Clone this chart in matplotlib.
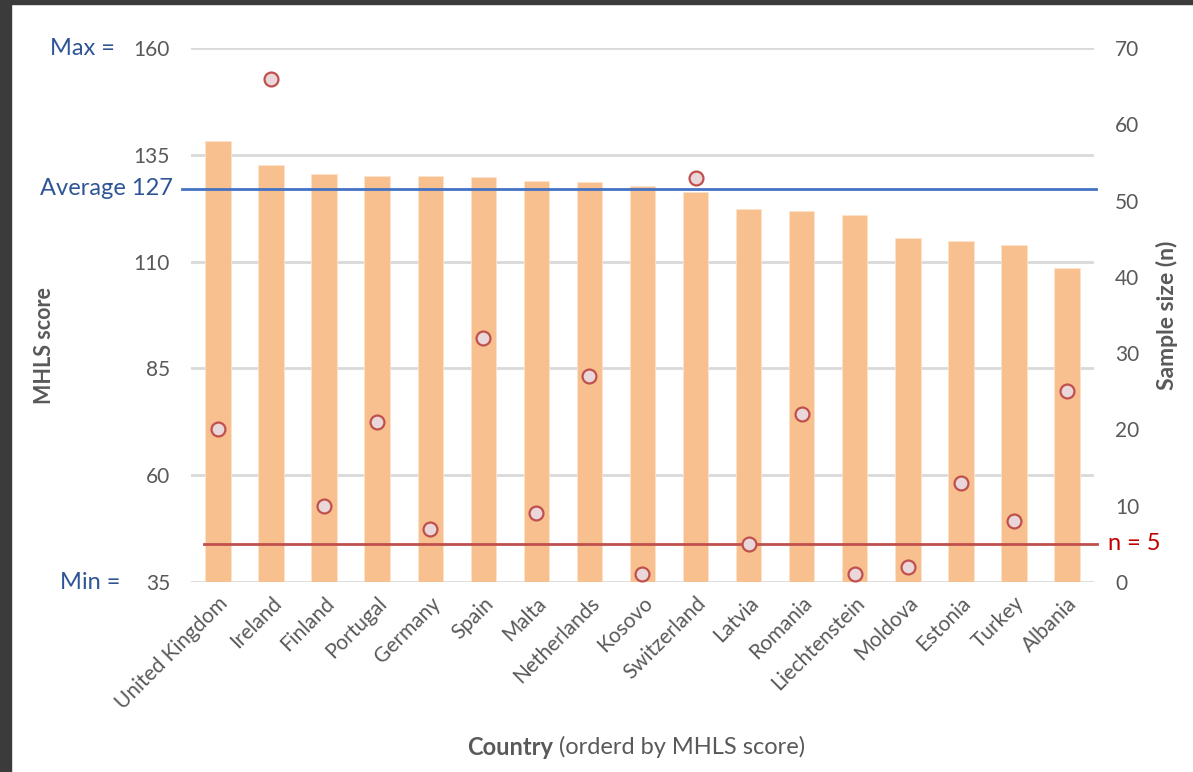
import matplotlib
matplotlib.use("Agg")
import matplotlib.pyplot as plt
import matplotlib.patches as mpatches

plt.rcParams['font.family'] = ['Lato', 'DejaVu Sans']

countries = ["United Kingdom", "Ireland", "Finland", "Portugal", "Germany", "Spain",
             "Malta", "Netherlands", "Kosovo", "Switzerland", "Latvia", "Romania",
             "Liechtenstein", "Moldova", "Estonia", "Turkey", "Albania"]
mhls_score = [138.2, 132.5, 130.4, 130.1, 130.1, 129.8, 128.9, 128.6, 127.8,
              126.3, 122.4, 121.8, 120.8, 115.5, 114.9, 114.0, 108.6]
sample_n = [20, 66, 10, 21, 7, 32, 9, 27, 1, 53, 5, 22, 1, 2, 13, 8, 25]

score_ticks = [35, 60, 85, 110, 135, 160]
n_ticks = [0, 10, 20, 30, 40, 50, 60, 70]
score_avg = 127
n_min = 5

gray = "#595959"
blue = "#2F5597"
red = "#C00000"

fig = plt.figure(figsize=(11.93, 7.72), dpi=100)
ax = fig.add_axes([0.1605, 0.2461, 0.7561, 0.6917])

x = range(len(countries))
ax.bar(x, [s - score_ticks[0] for s in mhls_score], bottom=score_ticks[0], width=0.48,
       color="#F9C08F", edgecolor="#FDE3CC", linewidth=0.6, zorder=2)
ax.set_xlim(-0.5, len(countries) - 0.5)
ax.set_ylim(score_ticks[0], score_ticks[-1])
ax.set_yticks(score_ticks)
ax.yaxis.grid(True, color="#D9D9D9", linewidth=2, zorder=0)
ax.set_axisbelow(True)
for s in ax.spines.values():
    s.set_visible(False)
ax.tick_params(axis="y", length=0, pad=15.5, labelsize=15, labelcolor=gray)
ax.set_xticks(list(x))
ax.set_xticklabels(countries, rotation=45, ha="right", rotation_mode="anchor",
                   fontsize=15, color=gray)
ax.tick_params(axis="x", length=0, pad=8)

ax.set_ylabel("MHLS score", fontsize=15.5, fontweight="bold", color=gray)
ax.yaxis.set_label_coords(-0.151, 0.442)

# average line, runs slightly past the left edge
ax.axhline(score_avg, xmin=-0.01, xmax=1.003, color="#4472C4", linewidth=2,
           clip_on=False, zorder=4)
ax.text(-0.0205, score_avg, "Average %d" % score_avg, transform=ax.get_yaxis_transform(),
        ha="right", va="center", fontsize=17, color=blue)
ax.text(-0.085, score_ticks[-1], "Max =", transform=ax.get_yaxis_transform(),
        ha="right", va="center", fontsize=17, color=blue)
ax.text(-0.079, score_ticks[0], "Min =", transform=ax.get_yaxis_transform(),
        ha="right", va="center", fontsize=17, color=blue)

ax2 = ax.twinx()
ax2.set_ylim(n_ticks[0], n_ticks[-1])
ax2.set_yticks(n_ticks)
for s in ax2.spines.values():
    s.set_visible(False)
ax2.tick_params(axis="y", length=0, pad=15.5, labelsize=15, labelcolor=gray)
ax2.plot(list(x), sample_n, linestyle="none", marker="o", markersize=10,
         markerfacecolor="#EAD7DA", markeredgecolor="#C0504D", markeredgewidth=1.6,
         zorder=5)
ax2.axhline(n_min, xmin=0.014, xmax=1.004, color="#C0504D", linewidth=2,
            clip_on=False, zorder=4)
ax2.text(1.016, n_min, "n = %d" % n_min, transform=ax2.get_yaxis_transform(),
         ha="left", va="center", fontsize=17, color=red)
ax2.set_ylabel("Sample size (n)", fontsize=16.5, fontweight="bold", color=gray)
ax2.yaxis.set_label_coords(1.069, 0.5)

# x-axis title with bold first word
fig.text(0.4635, 0.032, "Country", fontsize=17, fontweight="bold", color=gray,
         ha="right", va="center")
fig.text(0.4635, 0.032, " (orderd by MHLS score)", fontsize=17, color=gray,
         ha="left", va="center")

# dark frame strips along the top and left edges
fig.patches.append(mpatches.Rectangle((0, 0.995), 1, 0.005, transform=fig.transFigure,
                                      color="#3B3B3B", zorder=10))
fig.patches.append(mpatches.Rectangle((0, 0), 0.0092, 1, transform=fig.transFigure,
                                      color="#3B3B3B", zorder=10))

fig.savefig("out.png", dpi=100)
